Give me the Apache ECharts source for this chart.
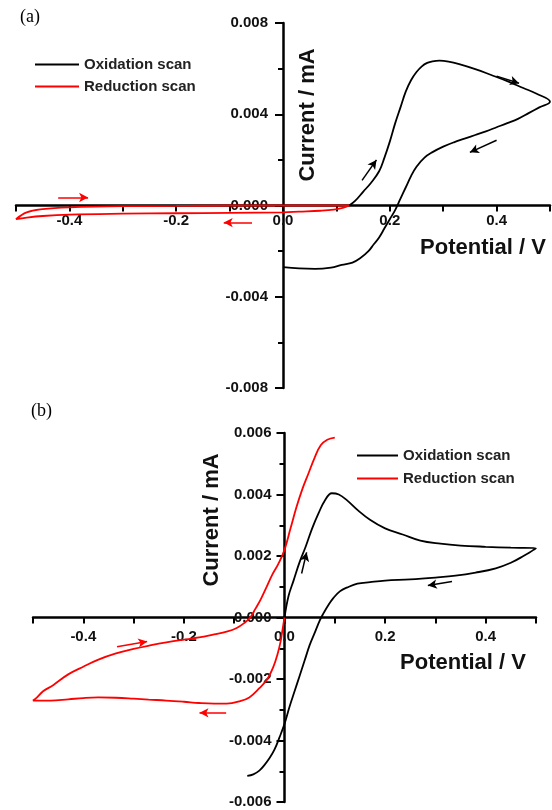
<!DOCTYPE html>
<html>
<head>
<meta charset="utf-8">
<script src="https://cdn.jsdelivr.net/npm/echarts@6/dist/echarts.min.js"></script>
<style>
html,body{margin:0;padding:0;background:#fff;}
#chart{width:552px;height:810px;}
</style>
</head>
<body>
<div id="chart"></div>
<script>
// ---- Data (Potential V, Current mA) ----
const seriesNames = ['Oxidation scan', 'Reduction scan'];

const oxidationA = [
  [0.124,0.0000],[0.135,0.0002],[0.150,0.0006],[0.165,0.0010],[0.180,0.0015],[0.190,0.0021],
  [0.200,0.0028],[0.210,0.0036],[0.220,0.0043],[0.230,0.0050],[0.240,0.0055],[0.250,0.00585],
  [0.260,0.0061],[0.270,0.00625],[0.280,0.00632],[0.293,0.00635],[0.310,0.00631],[0.330,0.0062],
  [0.360,0.00598],[0.390,0.00572],[0.420,0.00545],[0.450,0.00515],[0.475,0.0049],[0.500,0.00455],
  [0.480,0.0043],[0.460,0.00405],[0.440,0.0038],[0.420,0.00361],[0.400,0.00343],[0.380,0.00325],
  [0.360,0.00309],[0.340,0.00293],[0.320,0.00277],[0.300,0.00258],[0.280,0.00234],[0.265,0.0021],
  [0.250,0.0017],[0.240,0.0013],[0.230,0.0008],[0.220,0.0003],[0.210,-0.0002],[0.200,-0.0006],
  [0.190,-0.0010],[0.180,-0.0014],[0.170,-0.0017],[0.160,-0.0020],[0.145,-0.0023],[0.130,-0.0025],
  [0.110,-0.0026],[0.090,-0.00272],[0.060,-0.00278],[0.030,-0.00276],[0.000,-0.0027]
];
const reductionA = [
  [0.124,0.0000],[0.112,-0.0001],[0.095,-0.00018],[0.070,-0.00023],[0.030,-0.00027],[0.000,-0.0003],
  [-0.100,-0.00032],[-0.200,-0.00034],[-0.300,-0.00036],[-0.400,-0.0004],[-0.450,-0.00046],
  [-0.480,-0.00053],[-0.500,-0.0006],[-0.480,-0.0003],[-0.450,-0.00016],[-0.400,-0.00008],
  [-0.300,-0.00003],[-0.200,-0.00002],[-0.100,0.0],[0.000,0.0],[0.124,0.0000]
];
const oxidationB = [
  [0.000,0.0000],[0.008,0.0007],[0.018,0.0012],[0.030,0.0018],[0.042,0.0023],[0.055,0.0029],
  [0.068,0.0034],[0.080,0.0038],[0.094,0.00404],[0.108,0.0040],[0.125,0.0038],[0.145,0.0035],
  [0.170,0.00318],[0.200,0.0029],[0.235,0.0027],[0.270,0.0025],[0.310,0.0024],[0.350,0.00234],
  [0.400,0.0023],[0.450,0.00227],[0.500,0.00225],
  [0.475,0.0020],[0.450,0.00178],[0.420,0.0016],[0.380,0.00146],[0.340,0.00136],[0.300,0.0013],
  [0.250,0.00124],[0.200,0.0012],[0.170,0.00115],[0.145,0.0011],[0.125,0.00098],[0.110,0.00085],
  [0.097,0.00063],[0.087,0.0004],[0.078,0.00015],[0.070,-0.0001],[0.060,-0.0005],[0.050,-0.0009],
  [0.040,-0.0014],[0.030,-0.0019],[0.020,-0.0024],[0.010,-0.0029],[0.000,-0.00346],[-0.010,-0.0039],
  [-0.020,-0.0043],[-0.030,-0.00458],[-0.040,-0.0048],[-0.050,-0.00498],[-0.062,-0.0051],[-0.074,-0.00515]
];
const reductionB = [
  [0.000,0.0000],[-0.004,-0.0004],[-0.008,-0.0008],[-0.014,-0.0012],[-0.022,-0.0016],[-0.034,-0.0020],
  [-0.050,-0.0023],[-0.070,-0.0026],[-0.090,-0.00273],[-0.115,-0.0028],[-0.140,-0.0028],[-0.170,-0.00278],
  [-0.200,-0.00274],[-0.235,-0.0027],[-0.270,-0.00267],[-0.300,-0.00264],[-0.335,-0.00261],[-0.370,-0.0026],
  [-0.400,-0.00262],[-0.430,-0.00266],[-0.465,-0.0027],[-0.500,-0.0027],
  [-0.492,-0.0026],[-0.480,-0.0024],[-0.460,-0.0022],[-0.430,-0.00185],[-0.400,-0.0016],[-0.370,-0.00137],
  [-0.335,-0.00117],[-0.300,-0.00102],[-0.265,-0.0009],[-0.235,-0.00081],[-0.200,-0.00072],[-0.170,-0.00065],
  [-0.140,-0.00055],[-0.115,-0.00046],[-0.095,-0.00034],[-0.080,-0.00018],[-0.068,0.0000],[-0.058,0.00028],
  [-0.047,0.0006],[-0.036,0.00098],[-0.024,0.0014],[-0.012,0.00175],[0.000,0.0022],[0.012,0.0029],
  [0.024,0.0036],[0.036,0.0042],[0.048,0.0047],[0.060,0.0052],[0.072,0.0056],[0.085,0.00578],[0.100,0.00585]
];

// direction arrows [from, to] in data units
const arrowsOxA = [[[0.148,0.0011],[0.175,0.0020]], [[0.400,0.00567],[0.442,0.00536]], [[0.400,0.00286],[0.350,0.00233]]];
const arrowsRedA = [[[-0.421,0.00035],[-0.365,0.00035]], [[-0.058,-0.00075],[-0.111,-0.00075]]];
const arrowsOxB = [[[0.034,0.00143],[0.044,0.00212]], [[0.333,0.00117],[0.285,0.00104]]];
const arrowsRedB = [[[-0.333,-0.00095],[-0.273,-0.00078]], [[-0.116,-0.0031],[-0.169,-0.0031]]];

// ---- Styles ----
const SANS = "'Liberation Sans', Arial, sans-serif";
const SERIF = "'Liberation Serif', 'Times New Roman', serif";

// panel boxes
const gridA = {left:16, top:23, width:534, height:365};
const gridB = {left:33, top:433, width:503, height:369};

function xFmt(v){ const r = Math.round(v*10); if (r % 2 !== 0 || Math.abs(r) === 5) return ''; return (r/10).toFixed(1); }
function yFmt(v){ if (Math.abs(v) < 1e-9) return '0.000'; return v.toFixed(3); }

// axes crossing at the middle of the (symmetric) ranges
function xAxisOf(gi, g, margin){
  return {
    type:'value', gridIndex:gi, min:-0.5, max:0.5, interval:0.1,
    position:'bottom', offset:-g.height/2,
    axisLine:{onZero:false, lineStyle:{color:'#000', width:2.5}},
    axisTick:{show:true, length:6, lineStyle:{color:'#000', width:2}},
    axisLabel:{formatter:xFmt, color:'#111', fontFamily:SANS, fontWeight:'bold', fontSize:15, margin:margin},
    splitLine:{show:false}
  };
}
function yAxisOf(gi, g, min, max, interval, margin){
  return {
    type:'value', gridIndex:gi, min:min, max:max, interval:interval,
    position:'left', offset:-g.width/2,
    axisLine:{onZero:false, lineStyle:{color:'#000', width:2.5}},
    axisTick:{show:true, length:8, lineStyle:{color:'#000', width:2}},
    minorTick:{show:true, splitNumber:2, length:5, lineStyle:{color:'#000', width:2}},
    axisLabel:{formatter:yFmt, color:'#111', fontFamily:SANS, fontWeight:'bold', fontSize:15, margin:margin},
    splitLine:{show:false}
  };
}
function arrowMark(list, color){
  return {
    silent:true, symbol:['none','arrow'], symbolSize:[7,9], label:{show:false},
    lineStyle:{color:color, width:1.5, type:'solid'}, emphasis:{disabled:true},
    data:list.map(a => [{coord:a[0]}, {coord:a[1]}])
  };
}
function lineSeries(name, data, color, gi, arrows){
  return {
    name:name, type:'line', xAxisIndex:gi, yAxisIndex:gi, data:data,
    symbol:'none', smooth:0.4, lineStyle:{color:color, width:1.8}, itemStyle:{color:color},
    animation:false, markLine:arrowMark(arrows, color), z:3
  };
}

const chart = echarts.init(document.getElementById('chart'), null, {renderer:'canvas'});
chart.setOption({
  animation:false,
  backgroundColor:'#fff',
  grid:[
    Object.assign({outerBoundsMode:'none', containLabel:false}, gridA),
    Object.assign({outerBoundsMode:'none', containLabel:false}, gridB)
  ],
  xAxis:[xAxisOf(0, gridA, 8), xAxisOf(1, gridB, 12)],
  yAxis:[yAxisOf(0, gridA, -0.008, 0.008, 0.004, 15), yAxisOf(1, gridB, -0.006, 0.006, 0.002, 13)],
  legend:[
    {data:seriesNames, orient:'vertical', left:35, top:57, padding:0, icon:'rect', itemWidth:44, itemHeight:2, itemGap:7,
     textStyle:{fontFamily:SANS, fontWeight:'bold', fontSize:15, color:'#222'}, selectedMode:false},
    {data:seriesNames, orient:'vertical', left:357, top:448, padding:0, icon:'rect', itemWidth:41, itemHeight:2, itemGap:8,
     textStyle:{fontFamily:SANS, fontWeight:'bold', fontSize:15, color:'#222'}, selectedMode:false}
  ],
  series:[
    lineSeries(seriesNames[0], oxidationA, '#000000', 0, arrowsOxA),
    lineSeries(seriesNames[1], reductionA, '#ff0000', 0, arrowsRedA),
    lineSeries(seriesNames[0], oxidationB, '#000000', 1, arrowsOxB),
    lineSeries(seriesNames[1], reductionB, '#ff0000', 1, arrowsRedB)
  ],
  graphic:[
    {type:'text', left:20, top:8, style:{text:'(a)', font:'18px ' + SERIF, fill:'#000'}},
    {type:'text', left:31, top:402, style:{text:'(b)', font:'18px ' + SERIF, fill:'#000'}},
    {type:'text', x:308, y:115, rotation:Math.PI/2,
     style:{text:'Current / mA', font:'bold 22px ' + SANS, fill:'#111', align:'center', verticalAlign:'middle'}},
    {type:'text', x:483, y:248,
     style:{text:'Potential / V', font:'bold 22px ' + SANS, fill:'#111', align:'center', verticalAlign:'middle'}},
    {type:'text', x:212, y:520, rotation:Math.PI/2,
     style:{text:'Current / mA', font:'bold 22px ' + SANS, fill:'#111', align:'center', verticalAlign:'middle'}},
    {type:'text', x:463, y:663,
     style:{text:'Potential / V', font:'bold 22px ' + SANS, fill:'#111', align:'center', verticalAlign:'middle'}}
  ]
});
</script>
</body>
</html>
